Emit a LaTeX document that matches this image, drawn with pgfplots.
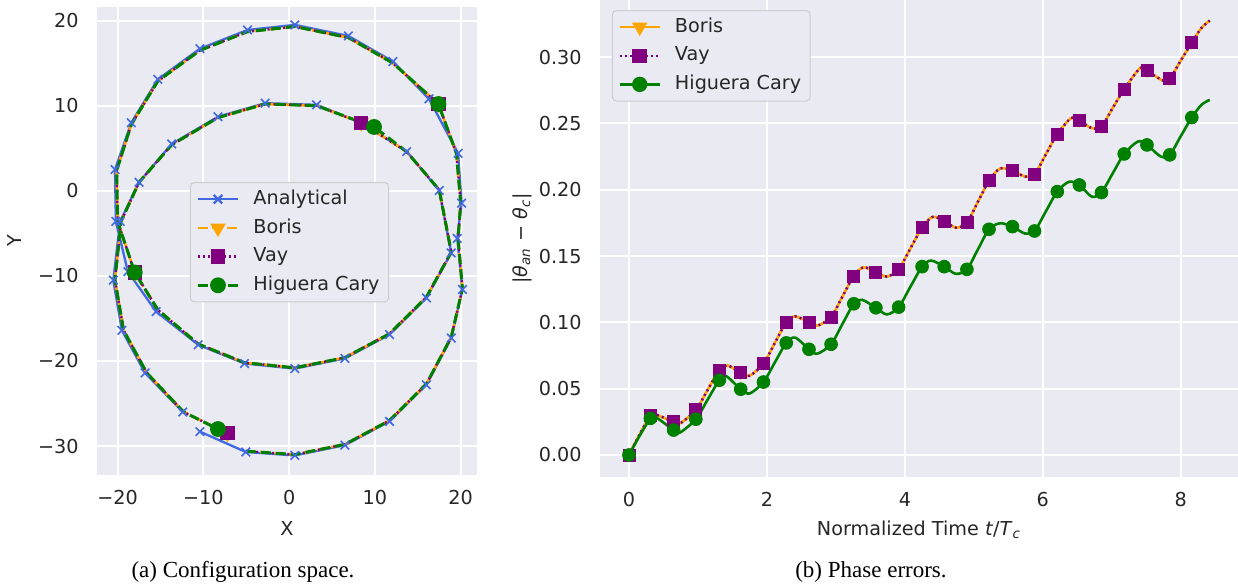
\documentclass[border=0pt]{standalone}
\usepackage{pgfplots}
\pgfplotsset{compat=1.18}
\usepackage{fontspec}
\setmainfont{Liberation Serif}
\newfontfamily\dejavu{DejaVu Sans}
\definecolor{bg}{HTML}{EAEAF2}
\definecolor{txt}{HTML}{262626}
\definecolor{lgray}{HTML}{CCCCCC}
\definecolor{ablue}{HTML}{4169E1}
\definecolor{borisc}{HTML}{FFA500}
\definecolor{vayc}{HTML}{800080}
\definecolor{hcc}{HTML}{008000}
\newcommand{\sbfont}{\dejavu\fontsize{9.6}{11.5}\selectfont}
\pgfplotsset{
  sb/.style={
    scale only axis, anchor=south west,
    axis background/.style={fill=bg},
    axis line style={draw=none},
    xmajorgrids, ymajorgrids,
    major grid style={draw=white, line width=1pt},
    major tick length=0pt,
    tick style={draw=none},
    ticklabel style={font=\sbfont, text=txt},
    xticklabel style={inner sep=0pt, anchor=north, yshift=-7.5pt},
    yticklabel style={inner sep=0pt, anchor=east, xshift=-9pt},
    label style={font=\sbfont, text=txt},
    legend cell align=left,
    legend image code/.code={\draw[mark repeat=2,mark phase=2] plot coordinates {(0pt,0pt) (10pt,0pt) (20pt,0pt)};},
    legend style={draw=lgray, fill=bg, rounded corners=2pt, font=\sbfont, text=txt, line width=0.5pt,
      inner xsep=3pt, inner ysep=2.2pt, row sep=2.15pt, column sep=5.5pt, nodes={inner sep=1.5pt, text depth=0.2em}},
  }
}
\begin{document}
\begin{tikzpicture}
\path[use as bounding box] (0,0) rectangle (619pt,293.5pt);
% ---------------- left: configuration space
\begin{axis}[sb, at={(48.5pt,56pt)}, width=190pt, height=234pt,
  xmin=-22.4, xmax=21.9, ymin=-33.4, ymax=21.6,
  xtick={-20,-10,0,10,20}, xticklabels={−20,−10,0,10,20},
  ytick={-30,-20,-10,0,10,20}, yticklabels={−30,−20,−10,0,10,20},
  xlabel={X}, ylabel={Y},
  xlabel style={at={([yshift=-27pt]axis description cs:0.5,0)}, anchor=center},
  ylabel style={at={([xshift=-41pt]axis description cs:0,0.5)}, anchor=center},
  legend style={at={(0.2447,0.626)}, anchor=north west},
]
\addlegendimage{ablue, line width=1.15pt, mark=x, mark size=3pt}
\addlegendentry{Analytical}
\addlegendimage{borisc, line width=1.3pt, dash pattern=on 5pt off 2.2pt, mark=triangle*, mark size=3.2pt, mark options={solid, rotate=180, fill=borisc}}
\addlegendentry{Boris}
\addlegendimage{vayc, line width=1.2pt, dash pattern=on 1pt off 1.6pt, mark=square*, mark size=3pt, mark options={solid, fill=vayc}}
\addlegendentry{Vay}
\addlegendimage{hcc, line width=1.5pt, dash pattern=on 5pt off 2.5pt, mark=*, mark size=3.2pt, mark options={solid, fill=hcc}}
\addlegendentry{Higuera Cary}
% analytical
\addplot[ablue, line width=1.15pt, mark=x, mark size=3pt, mark options={line width=0.8pt}, forget plot] coordinates {
(-10.4,-28.3) (-5.05,-30.7) (0.66,-31.1) (6.5,-29.9) (11.7,-27.1) (16.0,-22.8) (18.9,-17.3) (20.2,-11.6)
(19.6,-5.6) (20.1,-1.45) (19.7,4.4) (16.3,10.8) (12.1,15.2) (6.9,18.2) (0.66,19.5) (-4.85,18.9)
(-10.4,16.7) (-15.3,13.1) (-18.4,8.0) (-20.3,2.5) (-20.2,-3.6) (-18.8,-9.5) (-15.5,-14.2) (-10.6,-18.1)
(-5.2,-20.3) (0.66,-20.9) (6.5,-19.7) (11.7,-16.9) (16.0,-12.6) (18.9,-7.3) (17.5,0.04) (13.7,4.6)
(8.6,7.9) (3.2,10.1) (-2.8,10.3) (-8.3,8.7) (-13.7,5.5) (-17.5,1.0) (-19.7,-3.6) (-20.5,-10.5)
(-19.5,-16.4) (-16.8,-21.4) (-12.4,-26.0)};
% Boris
\addplot[borisc, line width=1.3pt, dash pattern=on 5pt off 2.2pt, mark=triangle*, mark size=3.2pt,
  mark options={solid, rotate=180, fill=borisc}, mark indices={11,21,32,43}, forget plot] coordinates {
(-5.05,-30.6) (0.66,-31.0) (6.5,-29.8) (11.7,-27.0) (16.0,-22.7) (18.9,-17.2) (20.2,-11.5)
(19.7,-5.6) (20.0,-1.4) (19.5,4.4) (17.4,10.2) (12.1,15.0) (6.9,18.0) (0.66,19.3) (-4.85,18.7)
(-10.4,16.5) (-15.3,12.9) (-18.4,7.8) (-20.1,2.4) (-20.0,-3.6) (-18.0,-9.6) (-15.3,-14.0) (-10.6,-18.0)
(-5.2,-20.2) (0.66,-20.8) (6.5,-19.6) (11.7,-16.8) (16.0,-12.5) (18.9,-7.2) (17.5,0.1)
(13.7,4.6) (8.4,8.0) (3.2,10.0) (-2.8,10.2) (-8.3,8.6) (-13.7,5.4) (-17.5,1.0) (-19.6,-3.6)
(-20.3,-10.5) (-19.3,-16.4) (-16.6,-21.4) (-12.3,-26.0) (-7.2,-28.5)};
% Vay
\addplot[vayc, line width=1.2pt, dash pattern=on 1pt off 1.6pt, mark=square*, mark size=3pt,
  mark options={solid, fill=vayc}, mark indices={11,21,32,43}, forget plot] coordinates {
(-5.05,-30.6) (0.66,-31.0) (6.5,-29.8) (11.7,-27.0) (16.0,-22.7) (18.9,-17.2) (20.2,-11.5)
(19.7,-5.6) (20.0,-1.4) (19.5,4.4) (17.4,10.2) (12.1,15.0) (6.9,18.0) (0.66,19.3) (-4.85,18.7)
(-10.4,16.5) (-15.3,12.9) (-18.4,7.8) (-20.1,2.4) (-20.0,-3.6) (-18.0,-9.6) (-15.3,-14.0) (-10.6,-18.0)
(-5.2,-20.2) (0.66,-20.8) (6.5,-19.6) (11.7,-16.8) (16.0,-12.5) (18.9,-7.2) (17.5,0.1)
(13.7,4.6) (8.4,8.0) (3.2,10.0) (-2.8,10.2) (-8.3,8.6) (-13.7,5.4) (-17.5,1.0) (-19.6,-3.6)
(-20.3,-10.5) (-19.3,-16.4) (-16.6,-21.4) (-12.3,-26.0) (-7.2,-28.5)};
% Higuera Cary
\addplot[hcc, line width=1.5pt, dash pattern=on 5pt off 2.5pt, mark=*, mark size=3.2pt,
  mark options={solid, fill=hcc}, mark indices={11,21,32,43}, forget plot] coordinates {
(-5.05,-30.6) (0.66,-31.0) (6.5,-29.8) (11.7,-27.0) (16.0,-22.7) (18.9,-17.2) (20.2,-11.5)
(19.7,-5.6) (20.0,-1.4) (19.5,4.4) (17.4,10.2) (12.1,15.0) (6.9,18.0) (0.66,19.3) (-4.85,18.7)
(-10.4,16.5) (-15.3,12.9) (-18.4,7.8) (-20.1,2.4) (-20.0,-3.6) (-18.0,-9.6) (-15.3,-14.0) (-10.6,-18.0)
(-5.2,-20.2) (0.66,-20.8) (6.5,-19.6) (11.7,-16.8) (16.0,-12.5) (18.9,-7.2) (17.5,0.1)
(13.7,4.6) (9.9,7.5) (3.2,10.0) (-2.8,10.2) (-8.3,8.6) (-13.7,5.4) (-17.5,1.0) (-19.6,-3.6)
(-20.3,-10.5) (-19.3,-16.4) (-16.6,-21.4) (-12.3,-26.0) (-8.3,-28.0)};
\end{axis}
% ---------------- right: phase errors
\begin{axis}[sb, at={(300pt,55pt)}, width=319pt, height=238.5pt,
  xmin=-0.42, xmax=8.83, ymin=-0.0166, ymax=0.3431,
  xtick={0,2,4,6,8}, xticklabels={0,2,4,6,8},
  ytick={0,0.05,0.1,0.15,0.2,0.25,0.3}, yticklabels={0.00,0.05,0.10,0.15,0.20,0.25,0.30},
  xlabel={Normalized Time \textit{t}/\textit{T}\textsubscript{\textit{c}}},
  ylabel={|\textit{θ}\textsubscript{\textit{an}} − \textit{θ}\textsubscript{\textit{c}}|},
  xlabel style={at={([yshift=-26.5pt]axis description cs:0.5,0)}, anchor=center},
  ylabel style={at={([xshift=-39pt]axis description cs:0,0.5)}, anchor=center},
  legend style={at={(0.0188,0.979)}, anchor=north west},
]
\addlegendimage{borisc, line width=1.25pt, mark=triangle*, mark size=3.2pt, mark options={solid, rotate=180, fill=borisc}}
\addlegendentry{Boris}
\addlegendimage{vayc, line width=1.25pt, dash pattern=on 1pt off 1.6pt, mark=square*, mark size=3pt, mark options={solid, fill=vayc}}
\addlegendentry{Vay}
\addlegendimage{hcc, line width=1.25pt, mark=*, mark size=3.2pt, mark options={solid, fill=hcc}}
\addlegendentry{Higuera Cary}
% Boris line (same as Vay)
\addplot[borisc, line width=1.3pt, smooth, tension=0.5, forget plot] coordinates {
(0,0) (0.155,0.0155) (0.31,0.0296) (0.40,0.0302) (0.647,0.025) (0.74,0.0238) (0.97,0.034) (1.14,0.049)
(1.31,0.064) (1.43,0.0675) (1.62,0.062) (1.75,0.0598) (1.95,0.069) (2.115,0.0845) (2.28,0.100) (2.41,0.1045)
(2.61,0.100) (2.73,0.0975) (2.93,0.104) (3.095,0.1195) (3.26,0.135) (3.40,0.1415) (3.58,0.138) (3.74,0.1345)
(3.91,0.140) (4.08,0.1557) (4.25,0.1714) (4.40,0.1795) (4.57,0.1765) (4.74,0.1714) (4.90,0.1753) (5.06,0.191)
(5.22,0.2067) (5.38,0.216) (5.56,0.2144) (5.74,0.210) (5.88,0.2116) (6.045,0.2268) (6.21,0.2419) (6.41,0.254)
(6.53,0.2522) (6.71,0.2464) (6.85,0.2477) (7.015,0.2618) (7.18,0.2758) (7.41,0.2917) (7.51,0.2897) (7.74,0.2824)
(7.84,0.2837) (8.0,0.2974) (8.16,0.311) (8.30,0.322) (8.42,0.3276)};
\addplot[only marks, mark=triangle*, mark size=3.2pt, mark options={rotate=180, draw=borisc, fill=borisc}, forget plot] coordinates {
(0,0) (0.31,0.0296) (0.647,0.025) (0.97,0.034) (1.31,0.064) (1.62,0.062) (1.95,0.069) (2.28,0.100) (2.61,0.100)
(2.93,0.104) (3.26,0.135) (3.58,0.138) (3.91,0.140) (4.25,0.1714) (4.57,0.1765) (4.90,0.1753) (5.22,0.2067)
(5.56,0.2144) (5.88,0.2116) (6.21,0.2419) (6.53,0.2522) (6.85,0.2477) (7.18,0.2758) (7.51,0.2897) (7.84,0.2837) (8.16,0.311)};
% Vay line
\addplot[vayc, line width=1.25pt, dash pattern=on 1pt off 1.6pt, smooth, tension=0.5, forget plot] coordinates {
(0,0) (0.155,0.0155) (0.31,0.0296) (0.40,0.0302) (0.647,0.025) (0.74,0.0238) (0.97,0.034) (1.14,0.049)
(1.31,0.064) (1.43,0.0675) (1.62,0.062) (1.75,0.0598) (1.95,0.069) (2.115,0.0845) (2.28,0.100) (2.41,0.1045)
(2.61,0.100) (2.73,0.0975) (2.93,0.104) (3.095,0.1195) (3.26,0.135) (3.40,0.1415) (3.58,0.138) (3.74,0.1345)
(3.91,0.140) (4.08,0.1557) (4.25,0.1714) (4.40,0.1795) (4.57,0.1765) (4.74,0.1714) (4.90,0.1753) (5.06,0.191)
(5.22,0.2067) (5.38,0.216) (5.56,0.2144) (5.74,0.210) (5.88,0.2116) (6.045,0.2268) (6.21,0.2419) (6.41,0.254)
(6.53,0.2522) (6.71,0.2464) (6.85,0.2477) (7.015,0.2618) (7.18,0.2758) (7.41,0.2917) (7.51,0.2897) (7.74,0.2824)
(7.84,0.2837) (8.0,0.2974) (8.16,0.311) (8.30,0.322) (8.42,0.3276)};
\addplot[only marks, mark=square*, mark size=3pt, mark options={draw=vayc, fill=vayc}, forget plot] coordinates {
(0,0) (0.31,0.0296) (0.647,0.025) (0.97,0.034) (1.31,0.064) (1.62,0.062) (1.95,0.069) (2.28,0.100) (2.61,0.100)
(2.93,0.104) (3.26,0.135) (3.58,0.138) (3.91,0.140) (4.25,0.1714) (4.57,0.1765) (4.90,0.1753) (5.22,0.2067)
(5.56,0.2144) (5.88,0.2116) (6.21,0.2419) (6.53,0.2522) (6.85,0.2477) (7.18,0.2758) (7.51,0.2897) (7.84,0.2837) (8.16,0.311)};
% Higuera Cary line
\addplot[hcc, line width=1.3pt, smooth, tension=0.5, forget plot] coordinates {
(0,0) (0.155,0.0145) (0.31,0.0276) (0.38,0.0288) (0.647,0.0188) (0.735,0.0168) (0.97,0.027) (1.14,0.0417)
(1.31,0.0564) (1.41,0.0594) (1.62,0.0496) (1.75,0.0464) (1.95,0.055) (2.115,0.0698) (2.28,0.0845) (2.41,0.0885)
(2.61,0.0797) (2.73,0.0764) (2.93,0.0835) (3.095,0.0988) (3.26,0.114) (3.38,0.117) (3.58,0.111) (3.74,0.106)
(3.91,0.1115) (4.08,0.1268) (4.25,0.142) (4.38,0.1466) (4.57,0.142) (4.74,0.1366) (4.90,0.140) (5.06,0.1551)
(5.22,0.1702) (5.38,0.1747) (5.56,0.1722) (5.74,0.167) (5.88,0.1689) (6.045,0.1838) (6.21,0.1986) (6.38,0.206)
(6.53,0.2036) (6.71,0.1948) (6.85,0.1979) (7.015,0.2125) (7.18,0.227) (7.38,0.2364) (7.51,0.2338) (7.71,0.2251)
(7.84,0.2263) (8.0,0.2404) (8.16,0.2545) (8.30,0.264) (8.42,0.2678)};
\addplot[only marks, mark=*, mark size=3.2pt, mark options={draw=hcc, fill=hcc}, forget plot] coordinates {
(0,0) (0.31,0.0276) (0.647,0.0188) (0.97,0.027) (1.31,0.0564) (1.62,0.0496) (1.95,0.055) (2.28,0.0845) (2.61,0.0797)
(2.93,0.0835) (3.26,0.114) (3.58,0.111) (3.91,0.1115) (4.25,0.142) (4.57,0.142) (4.90,0.140) (5.22,0.1702)
(5.56,0.1722) (5.88,0.1689) (6.21,0.1986) (6.53,0.2036) (6.85,0.1979) (7.18,0.227) (7.51,0.2338) (7.84,0.2263) (8.16,0.2545)};
\end{axis}
\node[font=\fontsize{11.5}{13}\selectfont, anchor=center] at (121.5pt,7.5pt) {(a) Configuration space.};
\node[font=\fontsize{11.5}{13}\selectfont, anchor=center] at (435.5pt,7.5pt) {(b) Phase errors.};
\end{tikzpicture}
\end{document}
